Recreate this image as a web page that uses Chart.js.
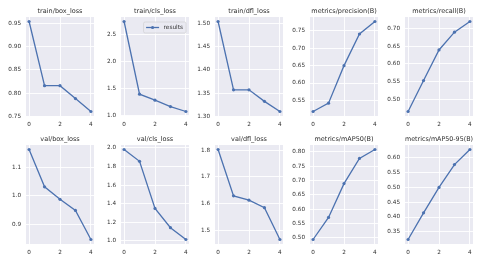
<!DOCTYPE html>
<html>
<head>
<meta charset="utf-8">
<script src="https://cdn.jsdelivr.net/npm/chart.js@4.4.1/dist/chart.umd.min.js"></script>
<style>
  html, body { margin: 0; padding: 0; background: #ffffff; }
  #wrap { position: relative; width: 480px; height: 264px; overflow: hidden; }
  #wrap canvas { position: absolute; }
</style>
</head>
<body>
<div id="wrap"></div>
<script>
const epochs = [0, 1, 2, 3, 4];
const xTicks = [0, 2, 4];
const seriesLabel = 'results';

const titles = [
    'train/box_loss', 'train/cls_loss', 'train/dfl_loss', 'metrics/precision(B)', 'metrics/recall(B)',
    'val/box_loss', 'val/cls_loss', 'val/dfl_loss', 'metrics/mAP50(B)', 'metrics/mAP50-95(B)'
];

const trainBoxLoss = [0.955, 0.816, 0.816, 0.788, 0.760];
const trainClsLoss = [2.748, 1.400, 1.289, 1.170, 1.078];
const trainDflLoss = [1.505, 1.357, 1.357, 1.332, 1.310];
const precision = [0.518, 0.542, 0.650, 0.741, 0.777];
const recall = [0.466, 0.553, 0.639, 0.689, 0.719];
const valBoxLoss = [1.162, 1.031, 0.987, 0.948, 0.846];
const valClsLoss = [1.982, 1.855, 1.349, 1.142, 1.015];
const valDflLoss = [1.802, 1.630, 1.614, 1.586, 1.468];
const mAP50 = [0.494, 0.571, 0.689, 0.777, 0.808];
const mAP5095 = [0.324, 0.414, 0.500, 0.577, 0.628];

const yTickLabels = [
    ['0.75', '0.80', '0.85', '0.90', '0.95'],
    ['1.0', '1.5', '2.0', '2.5'],
    ['1.30', '1.35', '1.40', '1.45', '1.50'],
    ['0.55', '0.60', '0.65', '0.70', '0.75'],
    ['0.50', '0.55', '0.60', '0.65', '0.70'],
    ['0.9', '1.0', '1.1'],
    ['1.0', '1.2', '1.4', '1.6', '1.8', '2.0'],
    ['1.5', '1.6', '1.7', '1.8'],
    ['0.50', '0.55', '0.60', '0.65', '0.70', '0.75', '0.80'],
    ['0.35', '0.40', '0.45', '0.50', '0.55', '0.60']
];

const series = [trainBoxLoss, trainClsLoss, trainDflLoss, precision, recall,
                valBoxLoss, valClsLoss, valDflLoss, mAP50, mAP5095];

const lineColor = '#4c72b0';
const textColor = '#2e2e2e';
const FONT = 'DejaVu Sans';

// plot-area geometry (matplotlib subplot grid)
const plotLefts = [26, 121, 215, 310, 405];
const plotTops = [17, 145];
const plotW = 68, plotH = 99;
const yAxisW = 26, xAxisH = 12, titleH = 17, padRight = 4;

// seaborn darkgrid background
const bgPlugin = {
    id: 'bg',
    beforeDraw(chart) {
        const a = chart.chartArea, ctx = chart.ctx;
        ctx.save();
        ctx.fillStyle = '#eaeaf2';
        ctx.fillRect(a.left, a.top, a.right - a.left, a.bottom - a.top);
        ctx.restore();
    }
};

// matplotlib-like legend box inside the axes (upper right)
const legendPlugin = {
    id: 'mplLegend',
    afterDatasetsDraw(chart, args, opts) {
        if (!opts.show) return;
        const a = chart.chartArea, ctx = chart.ctx;
        ctx.save();
        ctx.font = '5.8px "' + FONT + '"';
        const label = chart.data.datasets[0].label;
        const tw = ctx.measureText(label).width;
        const w = 20 + tw + 3, h = 11;
        const x = a.right - 3 - w, y = a.top + 5;
        ctx.beginPath();
        ctx.roundRect(x, y, w, h, 1.5);
        ctx.fillStyle = 'rgba(234,234,242,0.85)';
        ctx.fill();
        ctx.strokeStyle = '#cccccc';
        ctx.lineWidth = 0.6;
        ctx.stroke();
        ctx.strokeStyle = lineColor;
        ctx.lineWidth = 1.3;
        ctx.beginPath();
        ctx.moveTo(x + 2.5, y + h / 2);
        ctx.lineTo(x + 15.5, y + h / 2);
        ctx.stroke();
        ctx.fillStyle = lineColor;
        ctx.beginPath();
        ctx.arc(x + 9, y + h / 2, 1.6, 0, Math.PI * 2);
        ctx.fill();
        ctx.fillStyle = textColor;
        ctx.textBaseline = 'middle';
        ctx.fillText(label, x + 20, y + h / 2 + 0.3);
        ctx.restore();
    }
};

function makePanel(i) {
    const col = i % 5, row = Math.floor(i / 5);
    const canvas = document.createElement('canvas');
    const cw = yAxisW + plotW + padRight, ch = titleH + plotH + xAxisH;
    canvas.width = cw;
    canvas.height = ch;
    canvas.style.left = (plotLefts[col] - yAxisW) + 'px';
    canvas.style.top = (plotTops[row] - titleH) + 'px';
    canvas.style.width = cw + 'px';
    canvas.style.height = ch + 'px';
    document.getElementById('wrap').appendChild(canvas);

    const values = series[i];
    const lo = Math.min(...values), hi = Math.max(...values);
    const m = (hi - lo) * 0.05;
    const yTicks = yTickLabels[i];

    new Chart(canvas, {
        type: 'line',
        data: {
            datasets: [{
                label: seriesLabel,
                data: epochs.map((e, k) => ({ x: e, y: values[k] })),
                borderColor: lineColor,
                backgroundColor: lineColor,
                borderWidth: 1.3,
                pointRadius: 1.6,
                pointBorderWidth: 0,
                tension: 0,
            }]
        },
        options: {
            responsive: false,
            animation: false,
            devicePixelRatio: 1,
            layout: { padding: { left: 0, right: padRight, top: 0, bottom: 0 } },
            plugins: {
                legend: { display: false },
                tooltip: { enabled: false },
                title: {
                    display: true,
                    fullSize: false, // centre over the axes, like set_title
                    text: titles[i],
                    color: textColor,
                    font: { family: FONT, size: 6.5, weight: 'normal' },
                    padding: { top: 7.7, bottom: 1.5 },
                },
                mplLegend: { show: i === 1 },
            },
            scales: {
                x: {
                    type: 'linear',
                    min: -0.2,
                    max: 4.2,
                    border: { display: false },
                    grid: { color: '#ffffff', lineWidth: 0.9, drawTicks: false },
                    afterBuildTicks: (scale) => { scale.ticks = xTicks.map(v => ({ value: v })); },
                    afterFit: (scale) => { scale.height = xAxisH; },
                    ticks: {
                        padding: 5,
                        color: textColor,
                        font: { family: FONT, size: 5.7 },
                        callback: (v) => String(v),
                        maxRotation: 0,
                    }
                },
                y: {
                    min: lo - m,
                    max: hi + m,
                    border: { display: false },
                    grid: { color: '#ffffff', lineWidth: 0.9, drawTicks: false },
                    afterBuildTicks: (scale) => { scale.ticks = yTicks.map(s => ({ value: parseFloat(s) })); },
                    afterFit: (scale) => { scale.width = yAxisW; },
                    ticks: {
                        padding: 5,
                        color: textColor,
                        font: { family: FONT, size: 5.7 },
                        callback: (v) => yTicks.find(s => Math.abs(parseFloat(s) - v) < 1e-9) || String(v),
                    }
                }
            }
        },
        plugins: [bgPlugin, legendPlugin]
    });
}

for (let i = 0; i < titles.length; i++) {
    makePanel(i);
}
</script>
</body>
</html>
